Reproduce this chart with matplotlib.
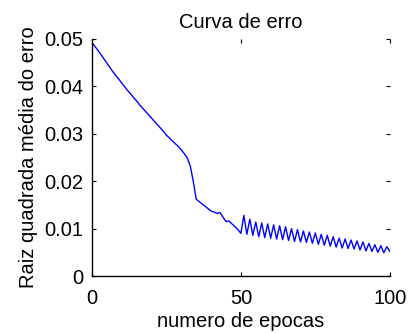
import matplotlib
matplotlib.use("Agg")
import matplotlib.pyplot as plt

plt.rcParams['font.family'] = ['Liberation Sans', 'DejaVu Sans']

title = "Curva de erro"
xlabel = "numero de epocas"
ylabel = "Raiz quadrada média do erro"
xticks = [0, 50, 100]
yticks = [0, 0.01, 0.02, 0.03, 0.04, 0.05]
ytick_labels = ["0", "0.01", "0.02", "0.03", "0.04", "0.05"]

err_first = [0.0492, 0.0484, 0.0476, 0.0467, 0.0458, 0.0449, 0.0440, 0.0431, 0.0423, 0.0415,
             0.0407, 0.0399, 0.0391, 0.0384, 0.0376, 0.0369, 0.0361, 0.0354, 0.0347, 0.0340,
             0.0333, 0.0326, 0.0319, 0.0312, 0.0305, 0.0297, 0.0291, 0.0285, 0.0279, 0.0273,
             0.0266, 0.0258, 0.0249, 0.0232, 0.0200, 0.0162, 0.0157, 0.0152, 0.0147, 0.0142,
             0.0137, 0.0135, 0.0132, 0.0134, 0.0124, 0.0115, 0.0116, 0.0110, 0.0104, 0.0098,
             0.0090]
err_peaks = [0.0128, 0.0120, 0.0114, 0.0112, 0.0110, 0.0108, 0.0106, 0.0104, 0.0100, 0.0098,
             0.0095, 0.0093, 0.0091, 0.0088, 0.0086, 0.0083, 0.0080, 0.0078, 0.0076, 0.0074,
             0.0072, 0.0069, 0.0066, 0.0064, 0.0062]
err_troughs = [0.0088, 0.0086, 0.0083, 0.0081, 0.0080, 0.0078, 0.0077, 0.0075, 0.0073, 0.0072,
               0.0071, 0.0069, 0.0067, 0.0065, 0.0063, 0.0061, 0.0059, 0.0058, 0.0057, 0.0055,
               0.0053, 0.0052, 0.0050, 0.0049, 0.0052]

err = list(err_first)
for p, t in zip(err_peaks, err_troughs):
    err.append(p)
    err.append(t)
epochs = list(range(len(err)))

fig = plt.figure(figsize=(4.09, 3.33), dpi=100)
ax = fig.add_axes([0.225, 0.171, 0.728, 0.712])
ax.plot(epochs, err, color='#0000ff', linewidth=1.0)

ax.set_xlim(0, 100)
ax.set_ylim(0, 0.05)
ax.set_xticks(xticks)
ax.set_xticklabels([str(v) for v in xticks])
ax.set_yticks(yticks)
ax.set_yticklabels(ytick_labels)

for s in ['top', 'right']:
    ax.spines[s].set_visible(False)
for s in ['left', 'bottom']:
    ax.spines[s].set_linewidth(1.0)
    ax.spines[s].set_color('black')

ax.tick_params(direction='in', length=3, width=0.8, labelsize=14.5, top=True, right=True, pad=6)
ax.tick_params(axis='x', pad=9)

ax.set_title(title, fontsize=14.5, pad=8)
ax.set_xlabel(xlabel, fontsize=14.5, labelpad=3)
ax.set_ylabel(ylabel, fontsize=14.5, labelpad=5)

fig.savefig("out.png", dpi=100)
